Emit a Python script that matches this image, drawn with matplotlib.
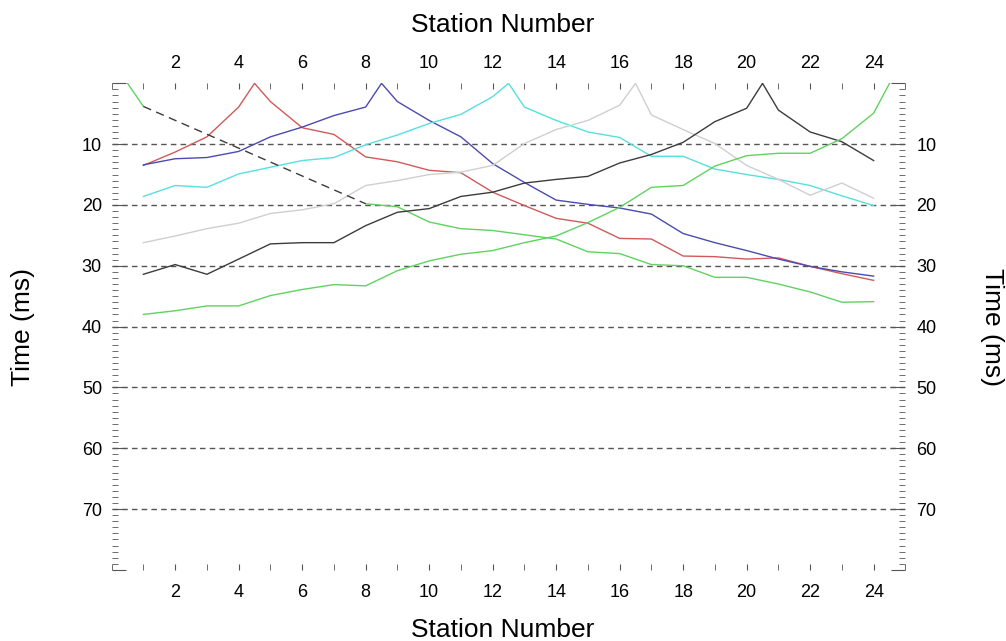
import matplotlib
matplotlib.use("Agg")
import matplotlib.pyplot as plt
import numpy as np
from matplotlib.ticker import MultipleLocator, FixedLocator

plt.rcParams['font.family'] = ['Liberation Sans', 'DejaVu Sans']

# Station numbers of the geophones
stations = list(range(1, 25))

# First-arrival picks (ms) per shot, shot location in stations, None = no pick
shot_pos = {"green1": 0.5, "red": 4.5, "blue": 8.5, "cyan": 12.5,
            "gray": 16.5, "black": 20.5, "green2": 24.5}

green1 = [3.8, None, None, None, None, None, None, 19.8, 20.3, 22.8, 23.9, 24.2,
          24.9, 25.6, 27.7, 28.0, 29.8, 30.0, 31.9, 31.9, 33.0, 34.3, 36.0, 35.9]
red = [13.5, 11.3, 8.8, 3.9, 3.0, 7.3, 8.4, 12.1, 12.9, 14.3, 14.7, 17.9,
       20.1, 22.2, 23.0, 25.5, 25.6, 28.4, 28.5, 28.9, 28.7, 30.1, 31.3, 32.4]
blue = [13.4, 12.4, 12.2, 11.2, 8.8, 7.2, 5.3, 3.9, 3.0, 6.1, 8.8, 13.2,
        16.3, 19.2, 19.9, 20.5, 21.5, 24.7, 26.2, 27.5, 28.9, 30.1, 31.0, 31.7]
cyan = [18.6, 16.8, 17.1, 14.9, 13.8, 12.7, 12.2, 10.1, 8.5, 6.6, 5.1, 2.2,
        3.9, 6.1, 8.0, 8.9, 12.0, 12.0, 14.1, 15.0, 15.8, 16.8, 18.5, 20.1]
gray = [26.2, 25.1, 23.9, 23.0, 21.4, 20.8, 19.8, 16.8, 16.0, 15.0, 14.6, 13.5,
        9.9, 7.6, 6.1, 3.6, 5.2, 7.6, 9.9, 13.5, 15.8, 18.4, 16.4, 18.9]
black = [31.4, 29.8, 31.4, 28.9, 26.4, 26.2, 26.2, 23.4, 21.2, 20.6, 18.6, 17.9,
         16.4, 15.8, 15.3, 13.1, 11.7, 9.7, 6.3, 4.1, 4.4, 8.0, 9.6, 12.7]
green2 = [38.0, 37.4, 36.6, 36.6, 34.9, 33.9, 33.1, 33.3, 30.8, 29.2, 28.1, 27.5,
          26.2, 25.1, 22.9, 20.4, 17.1, 16.8, 13.6, 11.9, 11.5, 11.5, 9.1, 4.9]

# fitted direct-wave line (station, ms)
fit_x = [1, 8]
fit_t = [3.8, 19.8]

series = [("green1", green1, "#5fd35f"), ("red", red, "#d05a5a"),
          ("blue", blue, "#4b4bb0"), ("cyan", cyan, "#55e0e0"),
          ("gray", gray, "#cfcfcf"), ("black", black, "#3c3c3c"),
          ("green2", green2, "#5fd35f")]


def with_shot(name, vals):
    # insert the shot point (t = 0) into the trace
    x = list(stations)
    y = [np.nan if v is None else v for v in vals]
    s = shot_pos[name]
    i = int(np.searchsorted(x, s))
    x.insert(i, s)
    y.insert(i, 0.0)
    return x, y


fig = plt.figure(figsize=(10.06, 6.41), dpi=100)
ax = fig.add_axes([0.111, 0.111, 0.789, 0.759])

for yv in range(10, 80, 10):
    ax.axhline(yv, color="#555555", lw=1.0, ls=(0, (4, 3)), zorder=1)

for name, vals, col in series:
    x, y = with_shot(name, vals)
    ax.plot(x, y, color=col, lw=1.0, zorder=3)

ax.plot(fit_x, fit_t, color="#3c3c3c", lw=1.0, ls=(0, (6, 4)), zorder=4)

ax.set_xlim(0, 25)
ax.set_ylim(80, 0)

for sp in ax.spines.values():
    sp.set_visible(False)

ax.xaxis.set_major_locator(FixedLocator(list(range(2, 25, 2))))
ax.xaxis.set_minor_locator(FixedLocator(list(range(0, 26))))
ax.yaxis.set_minor_locator(MultipleLocator(1))
ax.set_yticks(range(0, 81, 10))
ax.set_yticklabels([""] + [str(v) for v in range(10, 80, 10)] + [""])

ax.tick_params(which="both", direction="in", top=True, right=True,
               labeltop=False, labelright=False, color="#555555")
ax.tick_params(axis="x", which="major", length=4, pad=10, labelsize=13)
ax.tick_params(axis="x", which="minor", length=4)
ax.tick_params(axis="y", which="major", length=10, pad=7, labelsize=13)
ax.tick_params(axis="y", which="minor", length=4)

# longer ticks at 10 and 20
for t in ax.xaxis.get_major_ticks():
    if t.get_loc() in (10, 20):
        t.tick1line.set_markersize(8)
        t.tick2line.set_markersize(8)

# labels on the top and right sides
secx = ax.secondary_xaxis("top")
secx.set_xticks(list(range(2, 25, 2)))
secx.tick_params(length=0, pad=8, labelsize=13)
secy = ax.secondary_yaxis("right")
secy.set_yticks(list(range(10, 80, 10)))
secy.tick_params(length=0, pad=8, labelsize=13)
for sa in (secx, secy):
    for sp in sa.spines.values():
        sp.set_visible(False)

fig.text(0.5, 1 - 25 / 641, "Station Number", ha="center", va="center", fontsize=19)
fig.text(0.5, 4 / 641, "Station Number", ha="center", va="baseline", fontsize=19)
fig.text(23 / 1006, 1 - 327 / 641, "Time (ms)", ha="center", va="center",
         fontsize=19, rotation=90)
fig.text(992 / 1006, 1 - 327 / 641, "Time (ms)", ha="center", va="center",
         fontsize=19, rotation=-90)

plt.savefig("out.png", dpi=100)
